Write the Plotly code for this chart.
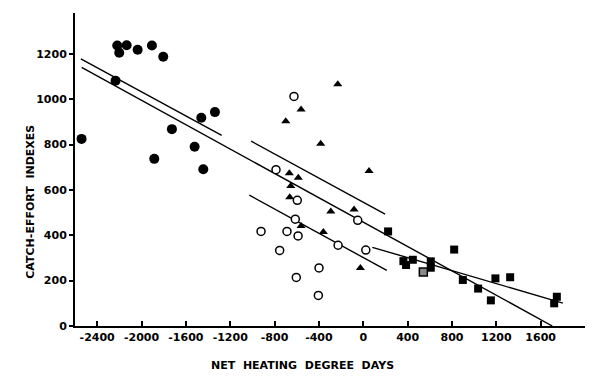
import plotly.graph_objects as go

# values
# filled circles
circ_x = [-2541, -2219, -2201, -2134, -2035, -1906, -1804, -2234, -1726, -1461, -1338, -1885, -1521, -1443]
circ_y = [825, 1237, 1205, 1238, 1218, 1237, 1187, 1081, 868, 918, 943, 737, 790, 691]

# filled triangles
tri_x = [-230, -561, -699, -384, 52, -667, -586, -654, -663, -83, -293, -561, -360, -26]
tri_y = [1066, 955, 903, 803, 683, 673, 654, 617, 568, 514, 505, 441, 414, 256]

# open circles
open_x = [-625, -787, -595, -613, -50, -922, -688, -588, -227, -754, 23, -399, -604, -405]
open_y = [1012, 689, 554, 471, 466, 417, 417, 397, 356, 333, 335, 256, 214, 135]

# filled squares
sq_x = [224, 820, 362, 386, 447, 609, 609, 898, 1036, 1151, 1192, 1325, 1746, 1722]
sq_y = [417, 337, 286, 269, 292, 285, 257, 203, 165, 113, 210, 215, 129, 100]

# the grey square
grey_x = [542]
grey_y = [238]

# fitted lines (end points)
line_long_x = [-2540, 1705]
line_long_y = [1140, 0]
line_left_x = [-2547, -1277]
line_left_y = [1178, 840]
line_mid_top_x = [-1011, 197]
line_mid_top_y = [815, 493]
line_mid_low_x = [-1028, 212]
line_mid_low_y = [577, 245]
line_right_x = [82, 1800]
line_right_y = [347, 101]

x_ticks = [-2400, -2000, -1600, -1200, -800, -400, 0, 400, 800, 1200, 1600]
x_labels = ['-2400', '-2000', '-1600', '-1200', '-800', '-400', '0', '400', '800', '1200', '1600']
y_ticks = [0, 200, 400, 600, 800, 1000, 1200]

fig = go.Figure()

# draw the lines first so the markers sit on top
for lx, ly in [(line_long_x, line_long_y), (line_left_x, line_left_y),
               (line_mid_top_x, line_mid_top_y), (line_mid_low_x, line_mid_low_y),
               (line_right_x, line_right_y)]:
    fig.add_trace(go.Scatter(x=lx, y=ly, mode='lines', line=dict(color='black', width=1.4),
                             showlegend=False, hoverinfo='skip'))

fig.add_trace(go.Scatter(x=circ_x, y=circ_y, mode='markers',
                         marker=dict(symbol='circle', size=10, color='black'), showlegend=False))
fig.add_trace(go.Scatter(x=tri_x, y=tri_y, mode='markers',
                         marker=dict(symbol='triangle-up', size=8, color='black'), showlegend=False))
fig.add_trace(go.Scatter(x=open_x, y=open_y, mode='markers',
                         marker=dict(symbol='circle', size=8, color='white',
                                     line=dict(color='black', width=1.5)), showlegend=False))
fig.add_trace(go.Scatter(x=sq_x, y=sq_y, mode='markers',
                         marker=dict(symbol='square', size=8, color='black'), showlegend=False))
fig.add_trace(go.Scatter(x=grey_x, y=grey_y, mode='markers',
                         marker=dict(symbol='square', size=8, color='#888888',
                                     line=dict(color='black', width=1.5)), showlegend=False))

# axis titles placed as annotations (they sit off-centre in the original)
fig.add_annotation(text='NET  HEATING  DEGREE  DAYS', xref='paper', yref='paper',
                   x=(302 - 75) / 510, y=-(366 - 326.5) / 313.5, showarrow=False,
                   font=dict(size=11, weight='bold'), xanchor='center', yanchor='middle')
fig.add_annotation(text='CATCH-EFFORT  INDEXES', xref='paper', yref='paper',
                   x=-(75 - 31) / 510, y=(326.5 - 202) / 313.5, showarrow=False, textangle=-90,
                   font=dict(size=11, weight='bold'), xanchor='center', yanchor='middle')

# the page body adds an 8px offset, so the figure is 8px smaller and margins shifted
fig.update_layout(
    width=592, height=373,
    margin=dict(l=67, r=15, t=5, b=55),
    plot_bgcolor='white',
    paper_bgcolor='white',
    font=dict(family='DejaVu Sans', color='black', size=11),
    xaxis=dict(
        range=[-2600, 2000], automargin=False,
        tickvals=x_ticks, ticktext=x_labels,
        ticks='inside', ticklen=5, tickwidth=1.5, tickcolor='black',
        showgrid=False, zeroline=False,
        showline=True, linecolor='black', linewidth=2,
        tickfont=dict(size=11, weight='bold'),
    ),
    yaxis=dict(
        range=[0, 1380], automargin=False,
        tickvals=y_ticks,
        ticks='outside', ticklen=4, tickwidth=1.5, tickcolor='black',
        showgrid=False, zeroline=False,
        showline=True, linecolor='black', linewidth=2,
        tickfont=dict(size=11, weight='bold'),
    ),
)

fig.write_html("out.html")
